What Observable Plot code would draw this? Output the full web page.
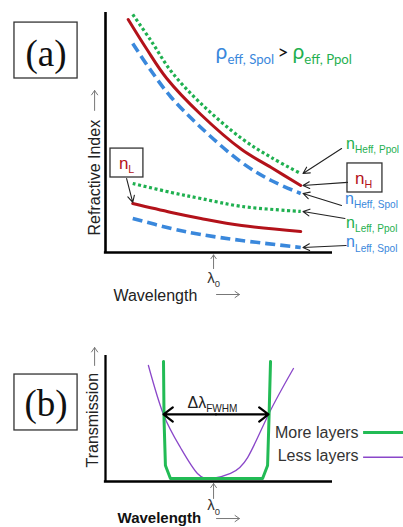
<!DOCTYPE html>
<html><head><meta charset="utf-8">
<script src="https://cdn.jsdelivr.net/npm/d3@7"></script>
<script src="https://cdn.jsdelivr.net/npm/@observablehq/plot@0.6"></script>
<style>
html,body{margin:0;padding:0;background:#fff;overflow:hidden;width:403px;}
svg{display:block;overflow:hidden}
</style></head><body><div id="pa"></div><div id="pb"></div>
<script>
// ---------- Panel (a): refractive index vs wavelength (arbitrary units) ----------
const upperWl = [1.2, 2.0, 2.9, 4.2, 6.0, 7.3, 8.6];
const nHWl    = [1.0, 1.8, 2.7, 4.2, 6.0, 7.3, 8.6];
const nH      = [9.71, 8.5, 7.25, 5.75, 4.29, 3.54, 2.79];
const nHeffP  = [9.92, 8.83, 7.54, 6.21, 4.75, 3.96, 3.29];
const nHeffS  = [8.71, 7.58, 6.46, 5.21, 3.75, 3.0, 2.46];
const lowerWl = [1.2, 2.9, 4.2, 6.0, 8.6];
const nLeffP  = [2.875, 2.5, 2.25, 1.92, 1.71];
const nL      = [2.04, 1.67, 1.42, 1.125, 0.875];
const nLeffS  = [1.42, 1.0, 0.75, 0.5, 0.21];
const lambda0 = 4.76;

// ---------- Panel (b): transmission vs wavelength ----------
const moreWl = [2.555, 2.58, 2.64, 2.86, 6.92, 7.14, 7.2, 7.27];
const moreT  = [9.52, 4.84, 1.27, 0.24, 0.24, 1.27, 4.84, 9.52];
const lessWl = [1.89, 2.555, 3.30, 4.05, 4.71, 5.51, 6.26, 7.18, 8.28];
const lessT  = [9.21, 5.32, 2.70, 0.64, 0.24, 0.64, 1.90, 5.32, 8.97];
const fwhmLeft = 2.555, fwhmRight = 7.18, halfMax = 5.32;
const legendLabels = ["More layers", "Less layers"];

const zip = (xs, ys) => xs.map((x, i) => ({x, y: ys[i]}));
const last = a => a[a.length - 1];

const RED = "#b3121a", GREEN = "#1fb050", BLUE = "#3a88dc", PURPLE = "#8a47c9", LGREEN = "#22bb55";
const SANS = "Liberation Sans, Arial, sans-serif";

function subscripts(svg) {
  d3.select(svg).selectAll("text").each(function () {
    const s = this.textContent;
    if (!s.includes("|")) return;
    const [base, sub] = s.split("|");
    const g = this.closest("[font-size]");
    const fs = g ? parseFloat(g.getAttribute("font-size")) : 12;
    const el = d3.select(this);
    el.text(null);
    el.append("tspan").text(base);
    el.append("tspan").attr("font-size", fs * 0.63).attr("dy", fs * 0.28).text(sub);
  });
}
const txt = (x, y, text, opts) => Plot.text([{x, y, text}], {x: "x", y: "y", text: "text", fontFamily: SANS, lineAnchor: "bottom", ...opts});
const arr = (x1, y1, x2, y2, opts) => Plot.arrow([{x1, y1, x2, y2}], {x1: "x1", y1: "y1", x2: "x2", y2: "y2", ...opts});
const box = (x1, x2, y1, y2) => Plot.rect([{x1, x2, y1, y2}], {x1: "x1", x2: "x2", y1: "y1", y2: "y2", fill: "none", stroke: "#333", strokeWidth: 1.3});
const dotted = {stroke: GREEN, strokeWidth: 3.2, strokeDasharray: "3,2.6", strokeLinecap: "butt", curve: "catmull-rom"};
const dashed = {stroke: BLUE, strokeWidth: 3.6, strokeDasharray: "10,5", strokeLinecap: "butt", curve: "catmull-rom"};
const solid = {stroke: RED, strokeWidth: 3, curve: "catmull-rom"};

// ---- Panel (a)
const ends = [
  {from: [10.4, 4.33], wl: upperWl, n: nHeffP},
  {from: [10.66, 2.92], wl: nHWl, n: nH},
  {from: [10.4, 1.96], wl: upperWl, n: nHeffS},
  {from: [10.55, 1.42], wl: lowerWl, n: nLeffP},
  {from: [10.6, 0.29], wl: lowerWl, n: nLeffS}
];
const annotArrows = ends.map(e => arr(e.from[0], e.from[1], last(e.wl) + 0.1, last(e.n), {stroke: "#222", strokeWidth: 1.1, headLength: 10, headAngle: 55}));

const chartA = Plot.plot({
  width: 403, height: 310, margin: 0,
  x: {domain: [0, 10], range: [105, 332], axis: null},
  y: {domain: [0, 10], range: [252, 12], axis: null},
  style: {background: "white", overflow: "hidden"},
  marks: [
    box(-4.01, -1.23, 7.25, 9.58),
    txt(-2.62, 7.79, "(a)", {fontFamily: "Liberation Serif, Times New Roman, serif", fontSize: 37, fill: "#111"}),
    Plot.ruleX([0], {y1: 0, y2: 10, stroke: "#000", strokeWidth: 2.6}),
    Plot.ruleY([0], {x1: -0.05, x2: 10, stroke: "#000", strokeWidth: 2.6}),
    Plot.line(zip(upperWl, nHeffS), {x: "x", y: "y", ...dashed}),
    Plot.line(zip(nHWl, nH), {x: "x", y: "y", ...solid}),
    Plot.line(zip(upperWl, nHeffP), {x: "x", y: "y", ...dotted}),
    Plot.line(zip(lowerWl, nLeffS), {x: "x", y: "y", ...dashed}),
    Plot.line(zip(lowerWl, nL), {x: "x", y: "y", ...solid}),
    Plot.line(zip(lowerWl, nLeffP), {x: "x", y: "y", ...dotted}),
    ...annotArrows,
    box(0.22, 1.67, 3.125, 4.33),
    txt(0.93, 3.5, "n|L", {fill: RED, fontSize: 17, textAnchor: "middle"}),
    arr(0.93, 3.08, lowerWl[0], nL[0] + 0.05, {stroke: "#222", strokeWidth: 1.1, headLength: 10, headAngle: 55}),
    box(10.66, 12.2, 2.5, 3.71),
    txt(11.37, 2.875, "n|H", {fill: RED, fontSize: 17, textAnchor: "middle"}),
    txt(10.6, 4.33, "n|Heff, Ppol", {fill: GREEN, fontSize: 16, textAnchor: "start"}),
    txt(10.55, 2.04, "n|Heff, Spol", {fill: BLUE, fontSize: 16, textAnchor: "start"}),
    txt(10.6, 1.04, "n|Leff, Ppol", {fill: GREEN, fontSize: 16, textAnchor: "start"}),
    txt(10.6, 0.21, "n|Leff, Spol", {fill: BLUE, fontSize: 16, textAnchor: "start"}),
    txt(4.85, 8.08, "ρ|eff, Spol", {fill: BLUE, fontSize: 21, textAnchor: "start", fontFamily: "Lato, sans-serif"}),
    txt(7.58, 8.08, ">", {fill: "#111", fontSize: 19, textAnchor: "start", fontFamily: "Lato, sans-serif"}),
    txt(8.24, 8.08, "ρ|eff, Ppol", {fill: GREEN, fontSize: 21, textAnchor: "start", fontFamily: "Lato, sans-serif"}),
    arr(lambda0, -0.67, lambda0, -0.1, {stroke: "#777", strokeWidth: 1, headLength: 8, headAngle: 70}),
    txt(lambda0, -1.25, "λ|0", {fill: "#333", fontSize: 15, textAnchor: "middle"}),
    txt(0.35, -2.04, "Wavelength", {fill: "#222", fontSize: 16, textAnchor: "start"}),
    arr(4.89, -1.75, 5.9, -1.75, {stroke: "#777", strokeWidth: 1, headLength: 8, headAngle: 70}),
    txt(-0.26, 0.71, "Refractive Index", {fill: "#222", fontSize: 16, textAnchor: "start", rotate: -90}),
    arr(-0.48, 5.92, -0.48, 6.75, {stroke: "#777", strokeWidth: 1, headLength: 8, headAngle: 70})
  ]
});
subscripts(chartA);
document.getElementById("pa").appendChild(chartA);

// ---- Panel (b)
const chartB = Plot.plot({
  width: 403, height: 217, margin: 0,
  x: {domain: [0, 10], range: [105, 332], axis: null},
  y: {domain: [0, 10], range: [171, 45], axis: null},
  style: {background: "white", overflow: "hidden"},
  marks: [
    box(-4.01, -1.23, 4.05, 8.49),
    txt(-2.62, 5.16, "(b)", {fontFamily: "Liberation Serif, Times New Roman, serif", fontSize: 37, fill: "#111"}),
    Plot.ruleX([0], {y1: 0, y2: 10, stroke: "#000", strokeWidth: 2.3}),
    Plot.ruleY([0], {x1: -0.05, x2: 10, stroke: "#000", strokeWidth: 2.3}),
    Plot.line(zip(lessWl, lessT), {x: "x", y: "y", stroke: PURPLE, strokeWidth: 1.3, curve: "natural"}),
    Plot.line(zip(moreWl, moreT), {x: "x", y: "y", stroke: LGREEN, strokeWidth: 3, curve: "linear", strokeLinejoin: "round"}),
    arr((fwhmLeft + fwhmRight) / 2, halfMax, fwhmLeft, halfMax, {stroke: "#000", strokeWidth: 2.2, headLength: 8, headAngle: 75}),
    arr((fwhmLeft + fwhmRight) / 2, halfMax, fwhmRight, halfMax, {stroke: "#000", strokeWidth: 2.2, headLength: 8, headAngle: 75}),
    txt(3.61, 5.87, "Δλ|FWHM", {fill: "#222", fontSize: 16, textAnchor: "start"}),
    txt(11.15, 3.49, legendLabels[0], {fill: "#333", fontSize: 16, textAnchor: "end"}),
    Plot.ruleY([3.89], {x1: 11.37, x2: 13.3, stroke: LGREEN, strokeWidth: 3}),
    txt(11.15, 1.61, legendLabels[1], {fill: "#333", fontSize: 16, textAnchor: "end"}),
    Plot.ruleY([1.93], {x1: 11.37, x2: 13.3, stroke: PURPLE, strokeWidth: 1.6}),
    arr(lambda0, -1.35, lambda0, -0.16, {stroke: "#777", strokeWidth: 1, headLength: 8, headAngle: 70}),
    txt(lambda0, -2.3, "λ|0", {fill: "#333", fontSize: 15, textAnchor: "middle"}),
    txt(0.53, -3.33, "Wavelength", {fill: "#111", fontSize: 15, fontWeight: "bold", textAnchor: "start"}),
    arr(4.89, -2.94, 5.9, -2.94, {stroke: "#777", strokeWidth: 1, headLength: 8, headAngle: 70}),
    txt(-0.31, 1.11, "Transmission", {fill: "#222", fontSize: 16, textAnchor: "start", rotate: -90}),
    arr(-0.48, 9.21, -0.48, 10.63, {stroke: "#777", strokeWidth: 1, headLength: 8, headAngle: 70})
  ]
});
subscripts(chartB);
document.getElementById("pb").appendChild(chartB);
</script></body></html>
